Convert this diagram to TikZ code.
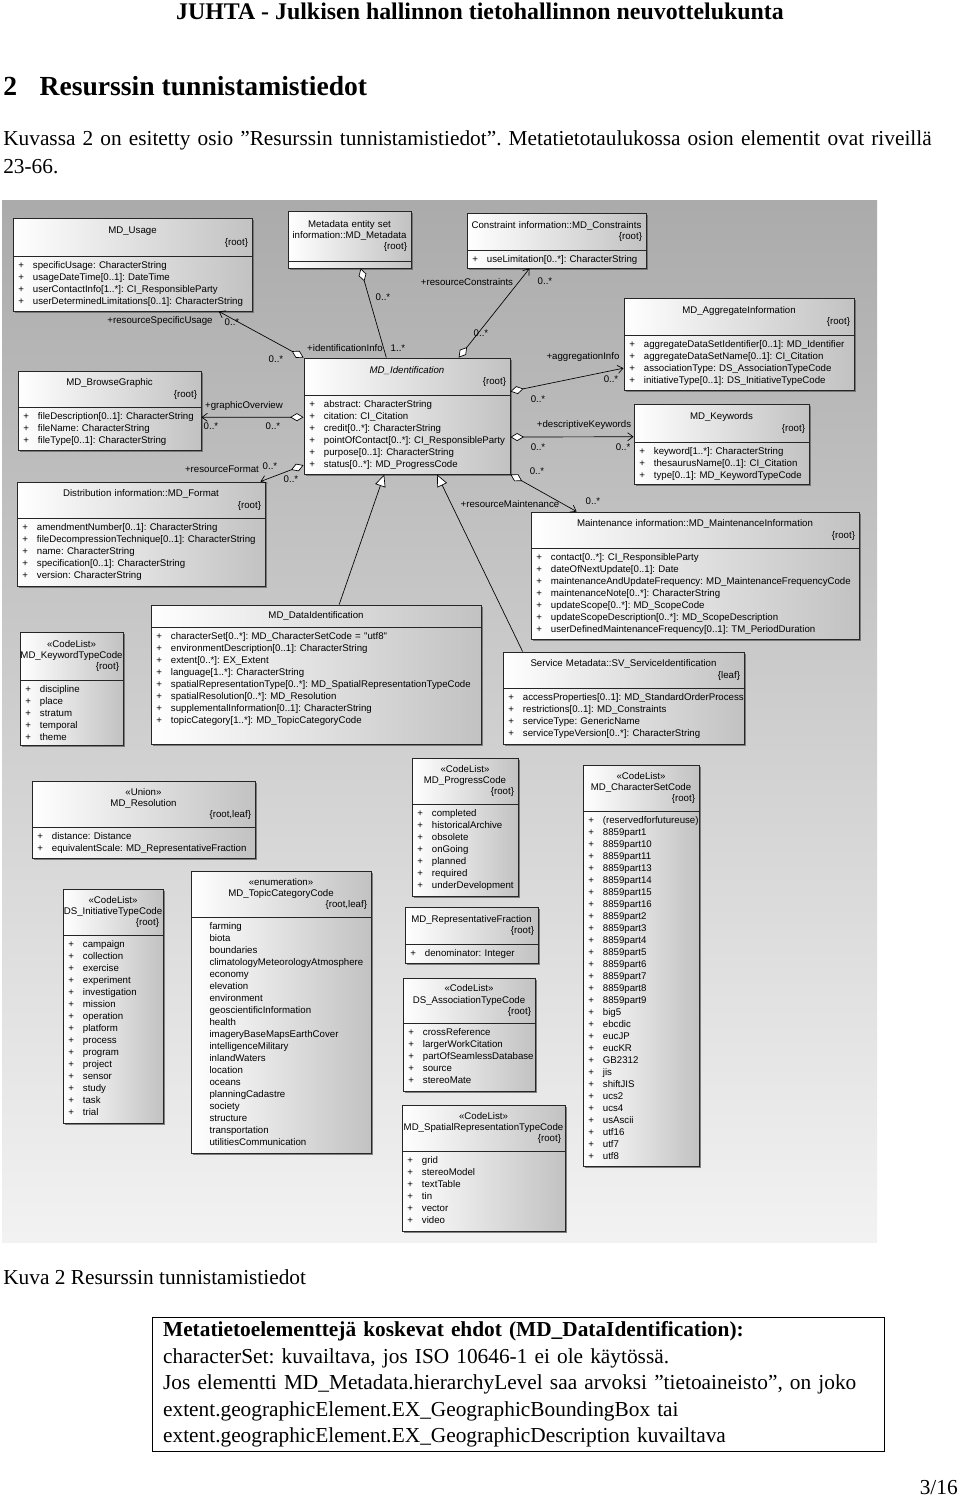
\documentclass[tikz,border=0pt]{standalone}
\usepackage{fontspec}
\setmainfont{Liberation Serif}
\newfontfamily\umlfont{Liberation Sans}
\usepackage{tikz}
\usetikzlibrary{arrows.meta,fit,calc,shadows}
\frenchspacing
\newcommand\umlkoko{\fontsize{7.25}{9}\selectfont}
\newcommand\pl[1]{\mbox{\makebox[11pt][l]{+}#1}}
\newcommand\np[1]{\mbox{\hspace*{10pt}#1}}
\newcommand\oikea[1]{\hspace*{\fill}\{#1\}}
\newcommand\rivi[1]{\makebox[\linewidth]{#1}}
\tikzset{
  klass/.style={draw=black!85, line width=0.7pt, inner sep=0pt,
    left color=white, right color=black!24,
    drop shadow={shadow xshift=1.8pt, shadow yshift=-1.8pt, fill=black!60, opacity=0.8}},
  klassline/.style={draw=black!85, line width=0.7pt},
  klasshead/.style={font=\umlfont\fontsize{7.25}{8.6}\selectfont, align=center, inner sep=0pt},
  klassattr/.style={font=\umlfont\umlkoko, align=left, inner sep=0pt, anchor=base west},
  rolle/.style={font=\umlfont\umlkoko, inner sep=0pt},
  kooste/.style={{Diamond[open, fill=white, length=10pt, width=6pt]}-{Straight Barb[length=4pt, width=6pt]},
    draw=black, line width=0.5pt},
  koostepelkka/.style={{Diamond[open, fill=white, length=10pt, width=6pt]}-, draw=black, line width=0.5pt},
  perinta/.style={-{Triangle[open, fill=white, length=9pt, width=8pt]}, draw=black, line width=0.5pt},
  sivuotsake/.style={font=\fontsize{17.9}{21}\selectfont\bfseries, inner sep=0pt},
  otsikko/.style={font=\fontsize{20.7}{24}\selectfont\bfseries, inner sep=0pt},
  leipa/.style={font=\fontsize{16}{21}\selectfont, inner sep=0pt, align=left},
  huomio/.style={draw=black, line width=0.7pt, font=\fontsize{16}{19.9}\selectfont,
    align=left, inner xsep=8pt, inner ysep=3pt},
}
% luokka: nimi, x1, y1, x2, y2, erotinviiva, otsake, attribuutit
\newcommand\luokka[8]{%
  \node[klass, fit={(#2,#3) (#4,#5)}] (#1) {};
  \draw[klassline] (#2,#6) -- (#4,#6);
  \pgfmathsetmacro\klassleveys{(#4-#2)*0.75-6}%
  \node[klasshead, text width=\klassleveys pt] (#1-otsake) at ({(#2+#4)/2},{(#3+#6)/2}) {#7};
  \node[klassattr, text width=\klassleveys pt] (#1-attr) at (#2+5,#6+12.5) {#8};
}
\begin{document}
\begin{tikzpicture}[x=0.75pt, y=-0.75pt]
  \useasboundingbox (0,0) rectangle (960,1497);
  \fill[white] (0,0) rectangle (960,1497);

  % sivun teksti
  \node[sivuotsake] (juhta) at (480,11) {JUHTA - Julkisen hallinnon tietohallinnon neuvottelukunta};
  \node[otsikko, anchor=base west] (luku) at (3,95) {2\hspace{17pt}Resurssin tunnistamistiedot};
  \node[leipa, anchor=base west, text width=715pt] (johdanto) at (3,145)
    {\mbox{Kuvassa 2 on esitetty osio ”Resurssin tunnistamistiedot”. Metatietotaulukossa osion elementit ovat riveillä}\\23-66.};

  % kaavion tausta
  \shade[top color=black!33, bottom color=black!5] (2,200) rectangle (877,1242);

  % luokat
  \luokka{usage}{13}{218}{252}{311}{256}{MD\_Usage\\\oikea{root}}
    {\pl{specificUsage: CharacterString}\\
     \pl{usageDateTime[0..1]: DateTime}\\
     \pl{userContactInfo[1..*]: CI\_ResponsibleParty}\\
     \pl{userDeterminedLimitations[0..1]: CharacterString}}
  \luokka{metadata}{288}{211}{411}{268}{261}
    {Metadata entity set\\\rivi{information::MD\_Metadata}\\\oikea{root}}{}
  \luokka{constraints}{467}{213}{646}{268}{250}
    {\rivi{Constraint information::MD\_Constraints}\\\oikea{root}}
    {\pl{useLimitation[0..*]: CharacterString}}
  \luokka{browse}{18}{371}{201}{450}{407}{MD\_BrowseGraphic\\\oikea{root}}
    {\pl{fileDescription[0..1]: CharacterString}\\
     \pl{fileName: CharacterString}\\
     \pl{fileType[0..1]: CharacterString}}
  \luokka{ident}{304}{358}{510}{474}{395}{\textit{MD\_Identification}\\\oikea{root}}
    {\pl{abstract: CharacterString}\\
     \pl{citation: CI\_Citation}\\
     \pl{credit[0..*]: CharacterString}\\
     \pl{pointOfContact[0..*]: CI\_ResponsibleParty}\\
     \pl{purpose[0..1]: CharacterString}\\
     \pl{status[0..*]: MD\_ProgressCode}}
  \luokka{aggregate}{624}{298}{854}{390}{335}{MD\_AggregateInformation\\\oikea{root}}
    {\pl{aggregateDataSetIdentifier[0..1]: MD\_Identifier}\\
     \pl{aggregateDataSetName[0..1]: CI\_Citation}\\
     \pl{associationType: DS\_AssociationTypeCode}\\
     \pl{initiativeType[0..1]: DS\_InitiativeTypeCode}}
  \luokka{keywords}{634}{404}{809}{484}{442}{MD\_Keywords\\\oikea{root}}
    {\pl{keyword[1..*]: CharacterString}\\
     \pl{thesaurusName[0..1]: CI\_Citation}\\
     \pl{type[0..1]: MD\_KeywordTypeCode}}
  \luokka{format}{17}{482}{265}{586}{518}{\rivi{Distribution information::MD\_Format}\\\oikea{root}}
    {\pl{amendmentNumber[0..1]: CharacterString}\\
     \pl{fileDecompressionTechnique[0..1]: CharacterString}\\
     \pl{name: CharacterString}\\
     \pl{specification[0..1]: CharacterString}\\
     \pl{version: CharacterString}}
  \luokka{maint}{531}{512}{859}{639}{548}
    {\rivi{Maintenance information::MD\_MaintenanceInformation}\\\oikea{root}}
    {\pl{contact[0..*]: CI\_ResponsibleParty}\\
     \pl{dateOfNextUpdate[0..1]: Date}\\
     \pl{maintenanceAndUpdateFrequency: MD\_MaintenanceFrequencyCode}\\
     \pl{maintenanceNote[0..*]: CharacterString}\\
     \pl{updateScope[0..*]: MD\_ScopeCode}\\
     \pl{updateScopeDescription[0..*]: MD\_ScopeDescription}\\
     \pl{userDefinedMaintenanceFrequency[0..1]: TM\_PeriodDuration}}
  \luokka{dataident}{151}{605}{481}{744}{627}{MD\_DataIdentification}
    {\pl{characterSet[0..*]: MD\_CharacterSetCode = "utf8"}\\
     \pl{environmentDescription[0..1]: CharacterString}\\
     \pl{extent[0..*]: EX\_Extent}\\
     \pl{language[1..*]: CharacterString}\\
     \pl{spatialRepresentationType[0..*]: MD\_SpatialRepresentationTypeCode}\\
     \pl{spatialResolution[0..*]: MD\_Resolution}\\
     \pl{supplementalInformation[0..1]: CharacterString}\\
     \pl{topicCategory[1..*]: MD\_TopicCategoryCode}}
  \luokka{kwtype}{20}{632}{123}{745}{680}{«CodeList»\\\rivi{MD\_KeywordTypeCode}\\\oikea{root}}
    {\pl{discipline}\\ \pl{place}\\ \pl{stratum}\\ \pl{temporal}\\ \pl{theme}}
  \luokka{service}{503}{652}{744}{744}{688}
    {\rivi{Service Metadata::SV\_ServiceIdentification}\\\oikea{leaf}}
    {\pl{accessProperties[0..1]: MD\_StandardOrderProcess}\\
     \pl{restrictions[0..1]: MD\_Constraints}\\
     \pl{serviceType: GenericName}\\
     \pl{serviceTypeVersion[0..*]: CharacterString}}
  \luokka{resolution}{32}{781}{255}{858}{827}{«Union»\\MD\_Resolution\\\oikea{root,leaf}}
    {\pl{distance: Distance}\\
     \pl{equivalentScale: MD\_RepresentativeFraction}}
  \luokka{initiative}{63}{889}{163}{1123}{935}{«CodeList»\\\rivi{DS\_InitiativeTypeCode}\\\oikea{root}}
    {\pl{campaign}\\ \pl{collection}\\ \pl{exercise}\\ \pl{experiment}\\ \pl{investigation}\\
     \pl{mission}\\ \pl{operation}\\ \pl{platform}\\ \pl{process}\\ \pl{program}\\
     \pl{project}\\ \pl{sensor}\\ \pl{study}\\ \pl{task}\\ \pl{trial}}
  \luokka{topic}{191}{871}{371}{1153}{917}{«enumeration»\\MD\_TopicCategoryCode\\\oikea{root,leaf}}
    {\np{farming}\\ \np{biota}\\ \np{boundaries}\\ \np{climatologyMeteorologyAtmosphere}\\
     \np{economy}\\ \np{elevation}\\ \np{environment}\\ \np{geoscientificInformation}\\
     \np{health}\\ \np{imageryBaseMapsEarthCover}\\ \np{intelligenceMilitary}\\
     \np{inlandWaters}\\ \np{location}\\ \np{oceans}\\ \np{planningCadastre}\\
     \np{society}\\ \np{structure}\\ \np{transportation}\\ \np{utilitiesCommunication}}
  \luokka{progress}{412}{758}{518}{896}{804}{«CodeList»\\MD\_ProgressCode\\\oikea{root}}
    {\pl{completed}\\ \pl{historicalArchive}\\ \pl{obsolete}\\ \pl{onGoing}\\
     \pl{planned}\\ \pl{required}\\ \pl{underDevelopment}}
  \luokka{repfrac}{405}{907}{538}{963}{944}{\rivi{MD\_RepresentativeFraction}\\\oikea{root}}
    {\pl{denominator: Integer}}
  \luokka{assoc}{403}{978}{535}{1091}{1023}{«CodeList»\\\rivi{DS\_AssociationTypeCode}\\\oikea{root}}
    {\pl{crossReference}\\ \pl{largerWorkCitation}\\ \pl{partOfSeamlessDatabase}\\
     \pl{source}\\ \pl{stereoMate}}
  \luokka{spatial}{402}{1105}{565}{1231}{1151}
    {«CodeList»\\\rivi{MD\_SpatialRepresentationTypeCode}\\\oikea{root}}
    {\pl{grid}\\ \pl{stereoModel}\\ \pl{textTable}\\ \pl{tin}\\ \pl{vector}\\ \pl{video}}
  \luokka{charset}{583}{765}{699}{1166}{811}{«CodeList»\\\rivi{MD\_CharacterSetCode}\\\oikea{root}}
    {\pl{(reservedforfutureuse)}\\ \pl{8859part1}\\ \pl{8859part10}\\ \pl{8859part11}\\
     \pl{8859part13}\\ \pl{8859part14}\\ \pl{8859part15}\\ \pl{8859part16}\\
     \pl{8859part2}\\ \pl{8859part3}\\ \pl{8859part4}\\ \pl{8859part5}\\
     \pl{8859part6}\\ \pl{8859part7}\\ \pl{8859part8}\\ \pl{8859part9}\\
     \pl{big5}\\ \pl{ebcdic}\\ \pl{eucJP}\\ \pl{eucKR}\\ \pl{GB2312}\\ \pl{jis}\\
     \pl{shiftJIS}\\ \pl{ucs2}\\ \pl{ucs4}\\ \pl{usAscii}\\ \pl{utf16}\\ \pl{utf7}\\ \pl{utf8}}

  % koosteet
  \draw[kooste] (ident.north west) -- ($(usage.south west)!0.86!(usage.south east)$);
  \draw[koostepelkka] ($(metadata.south west)!0.59!(metadata.south east)$) -- ($(ident.north west)!0.40!(ident.north east)$);
  \draw[kooste] ($(ident.north west)!0.75!(ident.north east)$) -- ($(constraints.south west)!0.35!(constraints.south east)$);
  \draw[kooste] ($(ident.north east)!0.29!(ident.south east)$) -- ($(aggregate.north west)!0.76!(aggregate.south west)$);
  \draw[kooste] ($(ident.north east)!0.68!(ident.south east)$) -- ($(keywords.north west)!0.41!(keywords.south west)$);
  \draw[kooste] (ident.south east) -- ($(maint.north west)!0.14!(maint.north east)$);
  \draw[kooste] ($(ident.north west)!0.51!(ident.south west)$) -- ($(browse.north east)!0.585!(browse.south east)$);
  \draw[kooste] ($(ident.north west)!0.92!(ident.south west)$) -- ($(format.north west)!0.98!(format.north east)$);
  % periytyminen
  \draw[perinta] ($(dataident.north west)!0.57!(dataident.north east)$) -- ($(ident.south west)!0.39!(ident.south east)$);
  \draw[perinta] ($(service.north west)!0.083!(service.north east)$) -- ($(ident.south west)!0.645!(ident.south east)$);

  % roolit ja lukumaarat
  \node[rolle] (r1a) at (160,321) {+resourceSpecificUsage};
  \node[rolle] (r1b) at (232,322) {0..*};
  \node[rolle] (r1c) at (276,359) {0..*};
  \node[rolle] (r2a) at (383,297) {0..*};
  \node[rolle] (r2b) at (345,348) {+identificationInfo};
  \node[rolle] (r2c) at (398,348) {1..*};
  \node[rolle] (r3a) at (467,282) {+resourceConstraints};
  \node[rolle] (r3b) at (545,281) {0..*};
  \node[rolle] (r3c) at (481,333) {0..*};
  \node[rolle] (r4a) at (583,357) {+aggregationInfo};
  \node[rolle] (r4b) at (611,379) {0..*};
  \node[rolle] (r4c) at (538,399) {0..*};
  \node[rolle] (r5a) at (584,425) {+descriptiveKeywords};
  \node[rolle] (r5b) at (538,447) {0..*};
  \node[rolle] (r5c) at (623,447) {0..*};
  \node[rolle] (r6a) at (510,504) {+resourceMaintenance};
  \node[rolle] (r6b) at (537,471) {0..*};
  \node[rolle] (r6c) at (593,501) {0..*};
  \node[rolle] (r7a) at (244,406) {+graphicOverview};
  \node[rolle] (r7b) at (211,426) {0..*};
  \node[rolle] (r7c) at (273,426) {0..*};
  \node[rolle] (r8a) at (222,469) {+resourceFormat};
  \node[rolle] (r8b) at (270,466) {0..*};
  \node[rolle] (r8c) at (291,479) {0..*};

  % kuvateksti ja ehdot
  \node[leipa, anchor=base west] (kuvateksti) at (3,1284) {Kuva 2 Resurssin tunnistamistiedot};
  \node[huomio, anchor=north west, text width=533pt] (ehdot) at (152,1317)
    {\textbf{Metatietoelementtejä koskevat ehdot (MD\_DataIdentification):}\\
     characterSet: kuvailtava, jos ISO 10646-1 ei ole käytössä.\\
     Jos elementti MD\_Metadata.hierarchyLevel saa arvoksi ”tietoaineisto”, on joko\\
     extent.geographicElement.EX\_GeographicBoundingBox tai\\
     extent.geographicElement.EX\_GeographicDescription kuvailtava};
  \node[leipa, anchor=base east] (sivu) at (958,1494) {3/16};
\end{tikzpicture}
\end{document}
